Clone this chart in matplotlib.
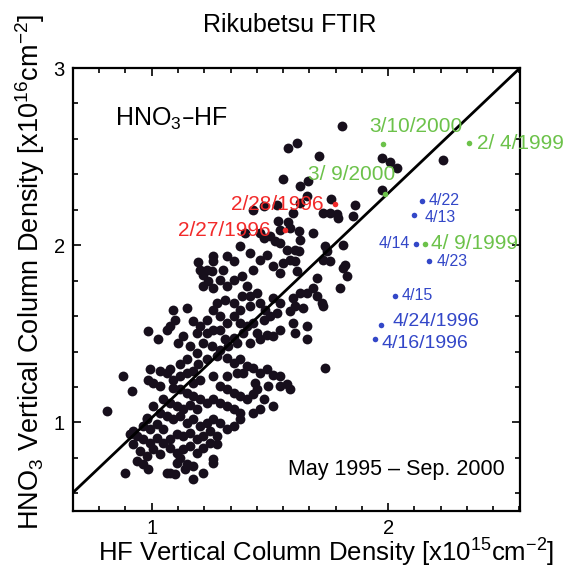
import numpy as np
import matplotlib
matplotlib.use('Agg')
import matplotlib.pyplot as plt
from matplotlib.ticker import MultipleLocator

plt.rcParams['font.family'] = ['Liberation Sans', 'DejaVu Sans']
plt.rcParams['mathtext.default'] = 'regular'

# HF / HNO3 column densities (x1e15 / x1e16 cm-2)
hf = [1.804, 1.578, 1.616, 1.709, 1.554, 1.628, 1.663, 1.973, 2.008, 2.037,
      2.231, 1.973, 1.757, 1.860, 1.853, 1.726, 1.755, 1.783, 1.790, 1.628,
      1.656, 1.529, 1.473, 1.430, 1.599, 1.578, 1.585, 1.536, 1.543, 1.395,
      1.458, 1.473, 1.501, 1.522, 1.621, 1.628, 1.684, 1.733, 1.740, 1.726,
      1.755, 1.811, 1.818, 1.811, 1.828, 1.797, 1.698, 1.684, 1.656, 1.606,
      1.621, 1.606, 1.614, 1.543, 1.571, 1.585, 1.557, 1.515, 1.543, 1.487,
      1.458, 1.430, 1.416, 1.374, 1.346, 1.317, 1.303, 1.261, 1.261, 1.197,
      1.205, 1.233, 1.254, 1.219, 1.240, 1.261, 1.219, 1.289, 1.317, 1.346,
      1.381, 1.402, 1.381, 1.416, 1.444, 1.458, 1.480, 1.515, 1.543, 1.529,
      1.501, 1.473, 1.599, 1.628, 1.606, 1.585, 1.642, 1.698, 1.719, 1.726,
      1.599, 1.543, 1.515, 1.487, 1.606, 1.656, 1.656, 1.416, 1.374, 1.346,
      1.310, 1.275, 1.261, 1.289, 1.317, 1.346, 1.374, 1.402, 1.430, 1.444,
      1.233, 1.205, 1.176, 1.190, 1.233, 1.261, 1.289, 1.310, 1.346, 1.388,
      1.416, 1.458, 1.148, 1.092, 1.078, 1.099, 1.113, 1.134, 1.028, 0.986,
      1.063, 1.162, 1.190, 1.219, 1.254, 1.289, 1.324, 1.360, 1.275, 1.233,
      1.197, 1.176, 1.148, 1.120, 1.317, 1.346, 1.374, 1.402, 1.388, 1.360,
      1.430, 1.458, 1.487, 1.515, 1.543, 1.437, 1.444, 1.430, 1.494, 1.543,
      1.571, 1.585, 1.733, 1.317, 1.289, 1.317, 1.346, 1.374, 1.402, 1.261,
      1.205, 1.176, 1.148, 1.120, 1.092, 1.078, 1.035, 1.063, 0.993, 0.986,
      1.007, 1.035, 0.880, 0.915, 1.092, 1.120, 1.148, 1.176, 1.205, 1.233,
      1.261, 1.289, 1.317, 1.346, 1.374, 1.473, 1.515, 1.458, 1.430, 1.049,
      1.078, 1.106, 1.134, 1.162, 1.190, 1.007, 1.035, 1.063, 1.092, 1.120,
      1.148, 1.176, 1.205, 1.233, 1.261, 1.289, 1.317, 1.346, 1.374, 0.810,
      0.979, 0.965, 0.993, 1.021, 1.049, 0.937, 0.965, 0.993, 1.021, 1.049,
      1.078, 1.106, 1.134, 1.162, 1.190, 1.219, 1.247, 1.275, 0.922, 0.951,
      0.979, 1.007, 1.035, 1.078, 1.106, 1.134, 1.162, 1.190, 1.219, 1.247,
      1.261, 1.275, 0.937, 0.965, 0.986, 1.106, 1.120, 1.148, 0.887, 1.063,
      1.078, 1.099, 1.141, 1.176, 1.219, 1.176, 1.261, 0.979, 0.922, 0.908]
hno3 = [2.673, 2.547, 2.576, 2.506, 2.373, 2.335, 2.360, 2.491, 2.467, 2.435,
        2.478, 2.313, 2.260, 2.228, 2.162, 2.181, 2.181, 2.177, 2.153, 2.238,
        2.275, 2.228, 2.219, 2.200, 2.181, 2.129, 2.097, 2.134, 2.087, 2.068,
        2.068, 2.040, 2.050, 2.022, 2.078, 2.031, 2.068, 1.993, 1.965, 1.918,
        1.909, 2.003, 1.890, 1.871, 1.824, 1.759, 1.815, 1.759, 1.731, 1.975,
        1.965, 1.909, 1.853, 2.012, 1.975, 1.918, 1.900, 1.881, 1.843, 1.946,
        1.918, 1.862, 1.956, 1.993, 1.909, 1.937, 1.862, 1.937, 1.909, 1.903,
        1.862, 1.862, 1.853, 1.834, 1.796, 1.759, 1.768, 1.806, 1.768, 1.806,
        1.824, 1.768, 1.712, 1.712, 1.731, 1.674, 1.637, 1.702, 1.674, 1.618,
        1.599, 1.580, 1.702, 1.731, 1.655, 1.627, 1.646, 1.712, 1.674, 1.655,
        1.562, 1.524, 1.486, 1.496, 1.505, 1.543, 1.468, 1.655, 1.637, 1.674,
        1.693, 1.674, 1.637, 1.599, 1.562, 1.599, 1.562, 1.543, 1.562, 1.505,
        1.580, 1.543, 1.571, 1.505, 1.505, 1.524, 1.524, 1.468, 1.477, 1.505,
        1.449, 1.468, 1.646, 1.637, 1.543, 1.580, 1.449, 1.486, 1.468, 1.515,
        1.524, 1.430, 1.392, 1.449, 1.430, 1.411, 1.430, 1.449, 1.374, 1.355,
        1.327, 1.289, 1.355, 1.327, 1.364, 1.336, 1.355, 1.317, 1.280, 1.280,
        1.308, 1.280, 1.299, 1.270, 1.261, 1.223, 1.186, 1.158, 1.205, 1.205,
        1.214, 1.186, 1.308, 1.261, 1.205, 1.186, 1.167, 1.148, 1.130, 1.261,
        1.242, 1.223, 1.280, 1.261, 1.242, 1.299, 1.289, 1.280, 1.299, 1.242,
        1.223, 1.205, 1.261, 1.176, 1.195, 1.186, 1.167, 1.148, 1.130, 1.111,
        1.130, 1.111, 1.092, 1.073, 1.054, 1.130, 1.092, 1.073, 1.054, 1.130,
        1.111, 1.092, 1.073, 1.101, 1.073, 1.092, 1.054, 1.036, 1.017, 1.036,
        0.998, 1.017, 0.979, 0.998, 1.017, 0.998, 0.961, 0.979, 1.017, 1.064,
        1.017, 0.979, 0.961, 0.989, 0.961, 0.923, 0.904, 0.885, 0.914, 0.885,
        0.904, 0.932, 0.923, 0.942, 0.904, 0.923, 0.951, 0.923, 0.876, 0.838,
        0.810, 0.848, 0.820, 0.857, 0.829, 0.848, 0.867, 0.829, 0.857, 0.885,
        0.792, 0.876, 0.782, 0.763, 0.735, 0.773, 0.801, 0.763, 0.716, 0.716,
        0.716, 0.707, 0.735, 0.754, 0.716, 0.679, 0.773, 1.026, 0.951, 0.932]

# highlighted days
red_dates = ['2/28/1996', '2/27/1996']
red_hf = [1.776, 1.564]
red_hno3 = [2.232, 2.083]

green_dates = ['3/10/2000', '2/ 4/1999', '3/ 9/2000', '4/ 9/1999']
green_hf = [1.980, 2.343, 1.987, 2.157]
green_hno3 = [2.570, 2.574, 2.290, 2.008]

blue_dates = ['4/22', '4/13', '4/14', '4/23', '4/15', '4/24/1996', '4/16/1996']
blue_hf = [2.143, 2.111, 2.119, 2.175, 2.030, 1.969, 1.945]
blue_hno3 = [2.252, 2.172, 2.008, 1.909, 1.715, 1.552, 1.468]

# reference line
line_slope = 1.267
line_intercept = -0.241

# label placement: dx, dy (pixels), alignment, font size
label_style = {
    '2/28/1996': (-12, 0, 'right', 15),
    '2/27/1996': (-14, 0, 'right', 15),
    '3/10/2000': (33, 18, 'center', 15),
    '2/ 4/1999': (8, 0, 'left', 15),
    '3/ 9/2000': (-33, 19, 'center', 15),
    '4/ 9/1999': (6, 0, 'left', 15),
    '4/22': (7, 0, 'left', 11.5),
    '4/13': (10, -3, 'left', 11.5),
    '4/14': (-6, 0, 'right', 11.5),
    '4/23': (7, 0, 'left', 11.5),
    '4/15': (6, 0, 'left', 11.5),
    '4/24/1996': (12, 3, 'left', 14),
    '4/16/1996': (6, -4, 'left', 14),
}

fig = plt.figure(figsize=(5.71, 5.73), dpi=100)
ax = fig.add_axes([73/571, 1 - 511/573, 447/571, 443/573])

ax.scatter(hf, hno3, s=50, color='#170f1c', linewidths=0, zorder=2)

xl = np.array([0.667, 2.558])
ax.plot(xl, line_slope * xl + line_intercept, color='black', lw=2, zorder=3)

for dates, xs, ys, col in [(red_dates, red_hf, red_hno3, '#f22a2a'),
                           (green_dates, green_hf, green_hno3, '#6cc24a'),
                           (blue_dates, blue_hf, blue_hno3, '#3347c8')]:
    ax.scatter(xs, ys, s=16, color=col, linewidths=0, zorder=4)
    for d, x, y in zip(dates, xs, ys):
        dx, dy, ha, fs = label_style[d]
        ax.annotate(d, (x, y), xytext=(dx, dy), textcoords='offset pixels',
                    ha=ha, va='center', color=col, fontsize=fs,
                    annotation_clip=False, zorder=5)

ax.set_xlim(0.667, 2.558)
ax.set_ylim(0.5, 3.0)
ax.set_xticks([1, 2])
ax.set_yticks([1, 2, 3])
ax.xaxis.set_minor_locator(MultipleLocator(1 / 9))
ax.yaxis.set_minor_locator(MultipleLocator(0.2))
ax.tick_params(which='both', direction='in', top=True, right=True, width=1.2)
ax.tick_params(which='major', length=6, labelsize=14.5, pad=6)
ax.tick_params(which='minor', length=3.5)
for sp in ax.spines.values():
    sp.set_linewidth(1.6)

ax.text(0.095, 0.885, 'HNO$_3$\u2013HF', transform=ax.transAxes, fontsize=18,
        va='center', ha='left')
ax.text(0.965, 0.093, 'May 1995 \u2013 Sep. 2000', transform=ax.transAxes,
        fontsize=15.5, va='center', ha='right')

fig.text(290/571, 1 - 25/573, 'Rikubetsu FTIR', fontsize=18, ha='center', va='center')
fig.text(326/571, 1 - 553/573, 'HF Vertical Column Density [x10$^{15}$cm$^{-2}$]',
         fontsize=18.5, ha='center', va='center')
fig.text(30/571, 1 - 272/573, 'HNO$_3$ Vertical Column Density [x10$^{16}$cm$^{-2}$]',
         fontsize=19.5, ha='center', va='center', rotation=90)

fig.savefig('out.png', dpi=100)
